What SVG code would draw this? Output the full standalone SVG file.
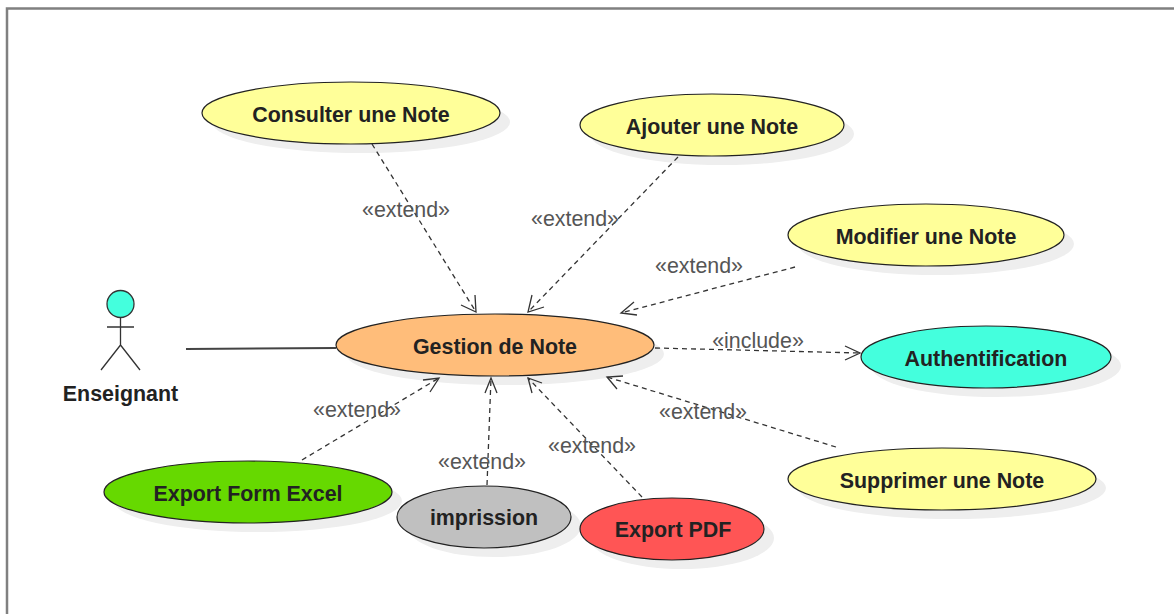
<svg xmlns="http://www.w3.org/2000/svg" width="1174" height="614" viewBox="0 0 1174 614">
<style>
.n{stroke:#222;stroke-width:1.200}
.s{fill:#eee;stroke:none}
.t{font-family:"Liberation Sans",Arial,sans-serif;font-size:21.400px;font-weight:bold;fill:#222;text-anchor:middle}
.l{font-family:"Liberation Sans",Arial,sans-serif;font-size:21.400px;fill:#555;text-anchor:middle}
.d{fill:none;stroke:#333;stroke-width:1.300;stroke-dasharray:5 4}
.a{fill:none;stroke:#333;stroke-width:1.300}
</style>
<rect x="7" y="8.500" width="1180" height="620" fill="#fff" stroke="#808080" stroke-width="2.500"/>
<g id="consulter"><ellipse class="s" cx="361" cy="122" rx="149" ry="31"/><ellipse class="n" cx="351" cy="113" rx="149" ry="31" fill="#ffff99"/><text class="t" x="351" y="122">Consulter une Note</text></g>
<g id="ajouter"><ellipse class="s" cx="722" cy="134" rx="132" ry="31"/><ellipse class="n" cx="712" cy="125" rx="132" ry="31" fill="#ffff99"/><text class="t" x="712" y="134">Ajouter une Note</text></g>
<g id="modifier"><ellipse class="s" cx="936" cy="244" rx="138" ry="31"/><ellipse class="n" cx="926" cy="235" rx="138" ry="31" fill="#ffff99"/><text class="t" x="926" y="244">Modifier une Note</text></g>
<g id="gestion"><ellipse class="s" cx="505" cy="354" rx="159" ry="31"/><ellipse class="n" cx="495" cy="345" rx="159" ry="31" fill="#ffbd7a"/><text class="t" x="495" y="354">Gestion de Note</text></g>
<g id="authentification"><ellipse class="s" cx="996" cy="366" rx="125" ry="31"/><ellipse class="n" cx="986" cy="357" rx="125" ry="31" fill="#44ffdd"/><text class="t" x="986" y="366">Authentification</text></g>
<g id="supprimer"><ellipse class="s" cx="952" cy="488" rx="154" ry="31"/><ellipse class="n" cx="942" cy="479" rx="154" ry="31" fill="#ffff99"/><text class="t" x="942" y="488">Supprimer une Note</text></g>
<g id="excel"><ellipse class="s" cx="258" cy="501" rx="144" ry="31"/><ellipse class="n" cx="248" cy="492" rx="144" ry="31" fill="#66d900"/><text class="t" x="248" y="501">Export Form Excel</text></g>
<g id="impression"><ellipse class="s" cx="494" cy="526" rx="87" ry="31"/><ellipse class="n" cx="484" cy="517" rx="87" ry="31" fill="#c0c0c0"/><text class="t" x="484" y="525">imprission</text></g>
<g id="pdf"><ellipse class="s" cx="682" cy="538" rx="92" ry="31"/><ellipse class="n" cx="672" cy="529" rx="92" ry="31" fill="#ff5555"/><text class="t" x="673" y="537">Export PDF</text></g>
<g id="enseignant" fill="none" stroke="#333" stroke-width="1.300">
<circle cx="120.500" cy="304" r="13.500" fill="#44ffdd"/>
<path d="M120.500 318V345M107 327H134M120.500 345L101 370M120.500 345L140 370"/>
<text class="t" x="120.500" y="401" stroke="none">Enseignant</text>
</g>
<g id="connectors">
<path d="M186 349L336 348" fill="none" stroke="#444" stroke-width="2"/>
<path class="d" d="M372 144L476 312"/><path class="a" d="M461 305L476 312L475 295"/>
<path class="d" d="M678 157L528 312"/><path class="a" d="M532 295L528 312L544 307"/>
<path class="d" d="M795 267L621 313"/><path class="a" d="M634 302L621 313L637 315"/>
<path class="d" d="M655 348L860 353"/><path class="a" d="M845 346L860 353L845 360"/>
<path class="d" d="M836 447L607 377"/><path class="a" d="M623 376L607 377L617 389"/>
<path class="d" d="M642 497L528 378"/><path class="a" d="M542 383L528 378L532 393"/>
<path class="d" d="M487 485L491 378"/><path class="a" d="M485 393L491 378L497 393"/>
<path class="d" d="M302 460L439 378"/><path class="a" d="M423 380L439 378L430 392"/>
</g>
<g id="labels">
<text class="l" x="406" y="217">«extend»</text>
<text class="l" x="575" y="226">«extend»</text>
<text class="l" x="699" y="273">«extend»</text>
<text class="l" x="758" y="348">«include»</text>
<text class="l" x="703" y="419">«extend»</text>
<text class="l" x="592" y="453">«extend»</text>
<text class="l" x="482" y="469">«extend»</text>
<text class="l" x="357" y="417">«extend»</text>
</g>
</svg>
